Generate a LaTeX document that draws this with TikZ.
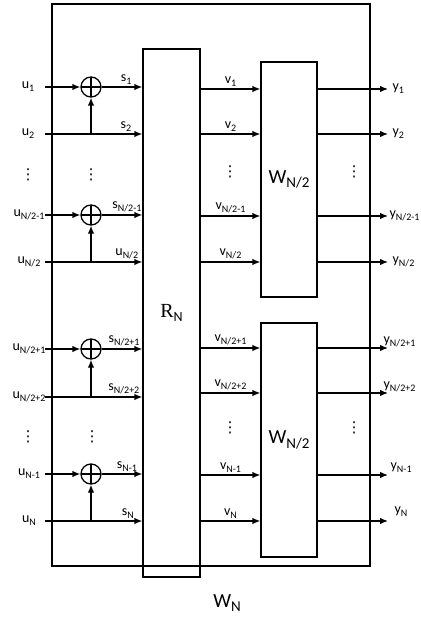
\documentclass[tikz,border=0pt]{standalone}
\usepackage{fontspec}
\setmainfont{Carlito}
\newfontfamily\rfont{Liberation Serif}
\newfontfamily\dotfont{DejaVu Sans}
\usepackage{tikz}
\usetikzlibrary{arrows.meta, positioning}
\newcommand\subidx[2][10]{\raisebox{-0.22em}{\fontsize{#1}{#1}\selectfont #2}}

\begin{document}
\begin{tikzpicture}[
    x=1pt, y=-1pt,
    line width=1.3pt,
    blk/.style={rectangle, draw, inner sep=0pt},
    adder/.style={circle, draw, minimum size=20pt, inner sep=0pt,
      path picture={\draw (path picture bounding box.north) -- (path picture bounding box.south)
        (path picture bounding box.west) -- (path picture bounding box.east);}},
    arr/.style={-{Latex[length=8pt, width=6.5pt]}},
    lbl/.style={font=\fontsize{14}{16}\selectfont, inner sep=1pt},
    sig/.style={lbl, above, inner sep=2pt},
    vdot/.style={font=\dotfont\fontsize{15}{17}\selectfont, inner sep=0pt},
    big/.style={font=\fontsize{20}{24}\selectfont},
  ]
  \useasboundingbox (0,0) rectangle (420,620);

  % blocks
  \node[blk, minimum width=318pt, minimum height=562pt] (wn) at (211,285) {};
  \node[blk, minimum width=57pt, minimum height=528pt, font=\rfont\fontsize{20}{22}\selectfont] (rn) at (171.5,313) {R\subidx[14]{\normalfont N}};
  \node[blk, big, minimum width=56pt, minimum height=235pt] (wup) at (289,179.5) {W\subidx[15]{N/2}};
  \node[blk, big, minimum width=56pt, minimum height=234pt] (wlo) at (289,440) {W\subidx[15]{N/2}};
  \node[big] (wnlbl) at (227,603) {W\subidx[15]{N}};

  % inputs
  \coordinate (in1) at (45,87);
  \coordinate (in2) at (45,134);
  \coordinate (in3) at (45,215);
  \coordinate (in4) at (45,262);
  \coordinate (in5) at (45,349);
  \coordinate (in6) at (45,397);
  \coordinate (in7) at (45,474);
  \coordinate (in8) at (45,521);
  \node[lbl] (u1) at (28,87) {u\subidx{1}};
  \node[lbl] (u2) at (28,134) {u\subidx{2}};
  \node[lbl] (u3) at (29,215) {u\subidx{N/2-1}};
  \node[lbl] (u4) at (29,262) {u\subidx{N/2}};
  \node[lbl] (u5) at (29,349) {u\subidx{N/2+1}};
  \node[lbl] (u6) at (29,397) {u\subidx{N/2+2}};
  \node[lbl] (u7) at (29,474) {u\subidx{N-1}};
  \node[lbl] (u8) at (29,521) {u\subidx{N}};

  % outputs
  \coordinate (out1) at (388,89);
  \coordinate (out2) at (388,134);
  \coordinate (out3) at (388,216);
  \coordinate (out4) at (388,262);
  \coordinate (out5) at (388,348);
  \coordinate (out6) at (388,393);
  \coordinate (out7) at (388,475);
  \coordinate (out8) at (388,521);

  % adders
  \node[adder] (add1) at (91,87) {};
  \node[adder] (add2) at (91,215) {};
  \node[adder] (add3) at (91,349) {};
  \node[adder] (add4) at (91,474) {};

  % left half
  \draw[arr] (in1) -- (add1);
  \draw[arr] (add1) -- node[sig, pos=0.6] (s1) {s\subidx{1}} (add1 -| rn.west);
  \draw[arr] (in2) -- node[sig, pos=0.83] (s2) {s\subidx{2}} (in2 -| rn.west);
  \draw[arr] (in2 -| add1) -- (add1);

  \draw[arr] (in3) -- (add2);
  \draw[arr] (add2) -- node[sig, pos=0.62] (s3) {s\subidx{N/2-1}} (add2 -| rn.west);
  \draw[arr] (in4) -- node[sig, pos=0.84] (s4) {u\subidx{N/2}} (in4 -| rn.west);
  \draw[arr] (in4 -| add2) -- (add2);

  \draw[arr] (in5) -- (add3);
  \draw[arr] (add3) -- node[sig, pos=0.55] (s5) {s\subidx{N/2+1}} (add3 -| rn.west);
  \draw[arr] (in6) -- node[sig, pos=0.81] (s6) {s\subidx{N/2+2}} (in6 -| rn.west);
  \draw[arr] (in6 -| add3) -- (add3);

  \draw[arr] (in7) -- (add4);
  \draw[arr] (add4) -- node[sig, pos=0.62] (s7) {s\subidx{N-1}} (add4 -| rn.west);
  \draw[arr] (in8) -- node[sig, pos=0.85] (s8) {s\subidx{N}} (in8 -| rn.west);
  \draw[arr] (in8 -| add4) -- (add4);

  % right half
  \draw[arr] (rn.east |- out1) -- node[sig] (v1) {v\subidx{1}} (wup.west |- out1);
  \draw[arr] (rn.east |- out2) -- node[sig] (v2) {v\subidx{2}} (wup.west |- out2);
  \draw[arr] (rn.east |- out3) -- node[sig] (v3) {v\subidx{N/2-1}} (wup.west |- out3);
  \draw[arr] (rn.east |- out4) -- node[sig] (v4) {v\subidx{N/2}} (wup.west |- out4);
  \draw[arr] (rn.east |- out5) -- node[sig] (v5) {v\subidx{N/2+1}} (wlo.west |- out5);
  \draw[arr] (rn.east |- out6) -- node[sig] (v6) {v\subidx{N/2+2}} (wlo.west |- out6);
  \draw[arr] (rn.east |- out7) -- node[sig] (v7) {v\subidx{N-1}} (wlo.west |- out7);
  \draw[arr] (rn.east |- out8) -- node[sig] (v8) {v\subidx{N}} (wlo.west |- out8);

  \draw[arr] (wup.east |- out1) -- (out1);
  \draw[arr] (wup.east |- out2) -- (out2);
  \draw[arr] (wup.east |- out3) -- (out3);
  \draw[arr] (wup.east |- out4) -- (out4);
  \draw[arr] (wlo.east |- out5) -- (out5);
  \draw[arr] (wlo.east |- out6) -- (out6);
  \draw[arr] (wlo.east |- out7) -- (out7);
  \draw[arr] (wlo.east |- out8) -- (out8);

  \node[lbl, right=3pt of out1] (y1) {y\subidx{1}};
  \node[lbl, right=3pt of out2] (y2) {y\subidx{2}};
  \node[lbl, right=0pt of out3] (y3) {y\subidx{N/2-1}};
  \node[lbl, right=3pt of out4] (y4) {y\subidx{N/2}};
  \node[lbl, above right=-1pt and -6pt of out5] (y5) {y\subidx{N/2+1}};
  \node[lbl, above right=-1pt and -6pt of out6] (y6) {y\subidx{N/2+2}};
  \node[lbl, above right=1pt and 1pt of out7] (y7) {y\subidx{N-1}};
  \node[lbl, above right=3pt and 5pt of out8] (y8) {y\subidx{N}};

  % dots
  \node[vdot] (du1) at (28,175) {⋮};
  \node[vdot] (da1) at (91,175) {⋮};
  \node[vdot] (dv1) at (230,172) {⋮};
  \node[vdot] (dy1) at (354,172) {⋮};
  \node[vdot] (du2) at (28,437) {⋮};
  \node[vdot] (da2) at (92,437) {⋮};
  \node[vdot] (dv2) at (230,428) {⋮};
  \node[vdot] (dy2) at (354,428) {⋮};
\end{tikzpicture}
\end{document}
